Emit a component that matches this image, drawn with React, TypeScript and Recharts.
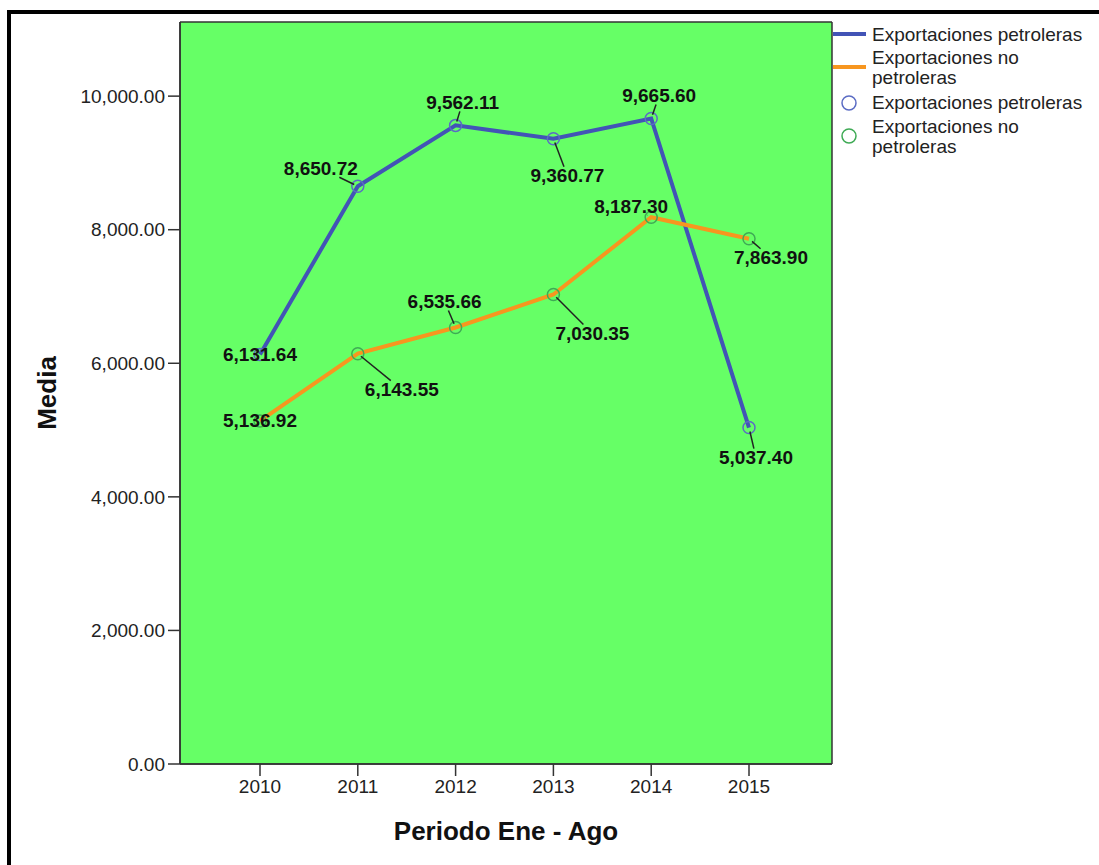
import React from 'react';
import { LineChart, Line, XAxis, YAxis, CartesianGrid, LabelList, Label, Legend } from 'recharts';

const years = ['2010', '2011', '2012', '2013', '2014', '2015'];
const petroleras = [6131.64, 8650.72, 9562.11, 9360.77, 9665.6, 5037.4];
const noPetroleras = [5136.92, 6143.55, 6535.66, 7030.35, 8187.3, 7863.9];
const yTicks = [0, 2000, 4000, 6000, 8000, 10000];

const data = years.map((year, i) => ({
  year,
  petroleras: petroleras[i],
  noPetroleras: noPetroleras[i],
}));

// where each value label sits relative to its point (SPSS moved them by hand)
const petOffsets: [number, number][] = [[0, 0], [-37, -18], [7, -23], [14, 37], [8, -23], [7, 30]];
const noPetOffsets: [number, number][] = [[0, 0], [44, 36], [-11, -26], [39, 39], [-20, -11], [22, 19]];

const FONT = '"Liberation Sans", Arial, sans-serif';
const BLUE = '#4254B6';
const ORANGE = '#F7961F';
const BLUE_MARK = '#5B6CC4';
const GREEN_MARK = '#3FAA55';

const fmt = (v: number) => v.toFixed(2).replace(/\B(?=(\d{3})+(?!\d))/g, ',');

const makeLabel = (offsets: [number, number][]) => (props: any) => {
  const { x, y, value, index } = props;
  const [dx, dy] = offsets[index] || [0, 0];
  const cx = x + dx;
  const cy = y + dy;
  let leader = null;
  if (dx !== 0 || dy !== 0) {
    const t = Math.min(39 / Math.abs(dx || 1e-6), 9 / Math.abs(dy || 1e-6));
    if (t < 1) {
      const dist = Math.sqrt(dx * dx + dy * dy);
      const sx = x + (dx / dist) * 4;
      const sy = y + (dy / dist) * 4;
      leader = <line x1={sx} y1={sy} x2={cx - dx * t} y2={cy - dy * t} stroke="#222" strokeWidth={1.5} />;
    }
  }
  return (
    <g>
      {leader}
      <text x={cx} y={cy} textAnchor="middle" dominantBaseline="central" fontFamily={FONT} fontWeight="bold" fontSize={19} fill="#111">
        {fmt(value)}
      </text>
    </g>
  );
};

const legendText = { fontFamily: FONT, fontSize: 19, fill: '#222' };

const renderLegend = () => (
  <svg width={267} height={170} style={{ display: 'block' }}>
    <line x1={1} x2={34} y1={34} y2={34} stroke={BLUE} strokeWidth={4} />
    <text x={40} y={41} {...legendText}>Exportaciones petroleras</text>
    <line x1={1} x2={34} y1={67} y2={67} stroke={ORANGE} strokeWidth={4} />
    <text {...legendText}>
      <tspan x={40} y={64}>Exportaciones no</tspan>
      <tspan x={40} y={84}>petroleras</tspan>
    </text>
    <circle cx={17} cy={103} r={7} fill="none" stroke={BLUE_MARK} strokeWidth={1.5} />
    <text x={40} y={109} {...legendText}>Exportaciones petroleras</text>
    <circle cx={17} cy={136} r={7} fill="none" stroke={GREEN_MARK} strokeWidth={1.5} />
    <text {...legendText}>
      <tspan x={40} y={133}>Exportaciones no</tspan>
      <tspan x={40} y={153}>petroleras</tspan>
    </text>
  </svg>
);

const App: React.FC = () => {
  return (
    <div style={{ position: 'absolute', left: 0, top: 0, width: 1099, height: 865, overflow: 'hidden', background: '#fff' }}>
      <div style={{ position: 'absolute', left: 7, top: 10, width: 1200, height: 1000, border: '4px solid #000', boxSizing: 'border-box' }} />
      <div style={{ position: 'absolute', left: 0, top: 0 }}>
        <LineChart width={1099} height={865} data={data} margin={{ top: 22, right: 0, left: 0, bottom: 0 }}>
          <CartesianGrid
            fill="#66FF66"
            fillOpacity={1}
            stroke="#333"
            strokeWidth={1.5}
            horizontalCoordinatesGenerator={({ offset }: any) => [offset.top, offset.top + offset.height]}
            verticalCoordinatesGenerator={({ offset }: any) => [offset.left, offset.left + offset.width]}
          />
          <XAxis
            dataKey="year"
            height={101}
            padding={{ left: 80, right: 83 }}
            axisLine={{ stroke: '#333', strokeWidth: 1.5 }}
            tickLine={{ stroke: '#333', strokeWidth: 1.5 }}
            tickSize={12}
            tickMargin={4}
            tick={{ fontFamily: FONT, fontSize: 19, fill: '#222' }}
          >
            <Label
              content={(p: any) => {
                const vb = p.viewBox || { x: 180, y: 764, width: 652 };
                return (
                  <text x={vb.x + vb.width / 2} y={vb.y + 67} textAnchor="middle" dominantBaseline="central" fontFamily={FONT} fontWeight="bold" fontSize={26} fill="#111">
                    Periodo Ene - Ago
                  </text>
                );
              }}
            />
          </XAxis>
          <YAxis
            width={180}
            domain={[0, 11110]}
            ticks={yTicks}
            allowDataOverflow
            tickFormatter={fmt}
            axisLine={{ stroke: '#333', strokeWidth: 1.5 }}
            tickLine={{ stroke: '#333', strokeWidth: 1.5 }}
            tickSize={12}
            tickMargin={3}
            tick={{ fontFamily: FONT, fontSize: 19, fill: '#222' }}
          >
            <Label
              content={(p: any) => {
                const vb = p.viewBox || { x: 0, y: 22, height: 742 };
                const cx = vb.x + 47;
                const cy = vb.y + vb.height / 2;
                return (
                  <text x={cx} y={cy} transform={`rotate(-90 ${cx} ${cy})`} textAnchor="middle" dominantBaseline="central" fontFamily={FONT} fontWeight="bold" fontSize={26} fill="#111">
                    Media
                  </text>
                );
              }}
            />
          </YAxis>
          <Legend layout="vertical" align="right" verticalAlign="top" content={renderLegend} wrapperStyle={{ width: 267, top: 0, right: 0 }} />
          <Line
            type="linear"
            dataKey="petroleras"
            stroke={BLUE}
            strokeWidth={4}
            dot={{ r: 6, stroke: BLUE_MARK, strokeWidth: 1.5, fill: 'none' }}
            activeDot={false}
            isAnimationActive={false}
          >
            <LabelList dataKey="petroleras" content={makeLabel(petOffsets)} />
          </Line>
          <Line
            type="linear"
            dataKey="noPetroleras"
            stroke={ORANGE}
            strokeWidth={4}
            dot={{ r: 6, stroke: GREEN_MARK, strokeWidth: 1.5, fill: 'none' }}
            activeDot={false}
            isAnimationActive={false}
          >
            <LabelList dataKey="noPetroleras" content={makeLabel(noPetOffsets)} />
          </Line>
        </LineChart>
      </div>
    </div>
  );
};

export default App;
